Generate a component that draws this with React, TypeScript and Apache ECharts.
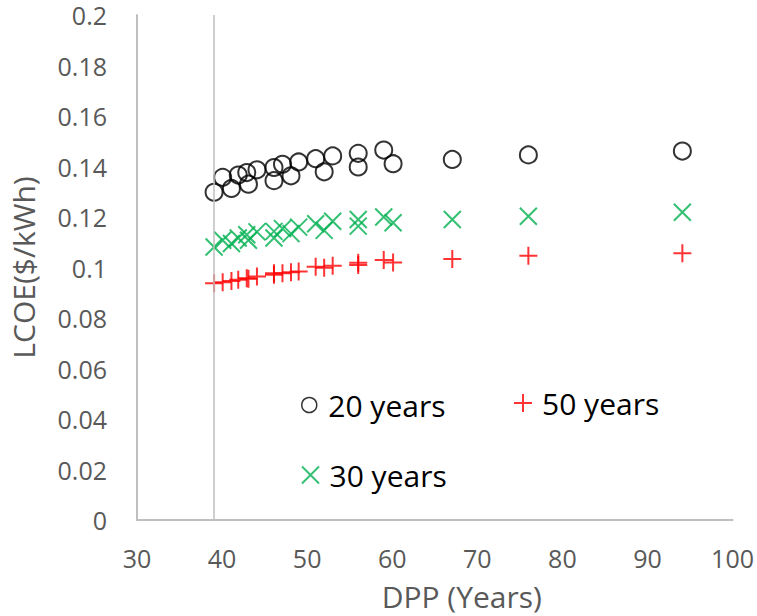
import React, { useEffect, useRef } from "react";
import * as echarts from "echarts";

const dpp = [39.06, 40.07, 41.1, 41.9, 42.9, 43.1, 44.1, 46.1, 46.1, 47.1, 48.1, 49.0, 51.0, 52.0, 53.0, 56.0, 56.0, 59.0, 60.1, 67.06, 76.0, 94.1];
const lcoe20 = [0.1298, 0.1357, 0.1313, 0.1366, 0.1376, 0.133, 0.1387, 0.1396, 0.1344, 0.1409, 0.1363, 0.1418, 0.1431, 0.1379, 0.1442, 0.1452, 0.1398, 0.1465, 0.1411, 0.1428, 0.1446, 0.1461];
const lcoe30 = [0.1081, 0.1108, 0.1095, 0.1117, 0.113, 0.1108, 0.1141, 0.1143, 0.1117, 0.1154, 0.1134, 0.116, 0.1173, 0.1147, 0.1183, 0.119, 0.1164, 0.12, 0.1177, 0.119, 0.1203, 0.1219];
const lcoe50 = [0.0938, 0.0942, 0.0947, 0.0951, 0.0957, 0.0955, 0.0964, 0.0977, 0.0971, 0.0977, 0.0981, 0.0984, 0.1003, 0.0999, 0.1007, 0.1019, 0.101, 0.103, 0.102, 0.1034, 0.1047, 0.1056];
const refLineX = 39.06;
const seriesNames = ["20 years", "50 years", "30 years"];

const FONT = "Open Sans";
const PLUS = "path://M0,-1L0,1M-1,0L1,0";
const CROSS = "path://M-1,-1L1,1M-1,1L1,-1";

export default function App() {
  const ref = useRef<HTMLDivElement>(null);
  useEffect(() => {
    document.body.style.margin = "0";
    const chart = echarts.init(ref.current!, undefined, { renderer: "svg" });
    const pair = (ys: number[]) => dpp.map((x, i) => [x, ys[i]]);
    const legendCommon = {
      orient: "horizontal",
      itemWidth: 28,
      itemHeight: 15,
      textStyle: { fontFamily: FONT, fontSize: 30, color: "#000" },
      selectedMode: false,
    };
    chart.setOption({
      animation: false,
      backgroundColor: "#fff",
      grid: { left: 133, right: 24, top: 15, bottom: 95, containLabel: false },
      xAxis: {
        type: "value",
        min: 30,
        max: 100,
        interval: 10,
        name: "DPP (Years)",
        nameLocation: "middle",
        nameGap: 61,
        nameTextStyle: { fontFamily: FONT, fontSize: 30, lineHeight: 30, color: "#595959", padding: [0, 0, 0, 54] },
        axisLine: { show: true, lineStyle: { color: "#BFBFBF", width: 2 } },
        axisTick: { show: false },
        splitLine: { show: false },
        axisLabel: { fontFamily: FONT, fontSize: 25, lineHeight: 24, color: "#595959", margin: 26 },
      },
      yAxis: {
        type: "value",
        min: 0,
        max: 0.2,
        interval: 0.02,
        name: "LCOE($/kWh)",
        nameLocation: "middle",
        nameGap: 99,
        nameRotate: 90,
        nameTextStyle: { fontFamily: FONT, fontSize: 30, color: "#595959" },
        axisLine: { show: true, lineStyle: { color: "#BFBFBF", width: 2 } },
        axisTick: { show: false },
        splitLine: { show: false },
        axisLabel: { fontFamily: FONT, fontSize: 25, lineHeight: 22, color: "#595959", margin: 30 },
      },
      legend: [
        {
          ...legendCommon,
          data: [seriesNames[0]],
          left: 296,
          top: 385,
          itemStyle: { color: "rgba(0,0,0,0)", borderColor: "#000", borderWidth: 1.5 },
        },
        {
          ...legendCommon,
          data: [seriesNames[1]],
          left: 508,
          top: 383,
          itemHeight: 18,
          itemStyle: { color: "rgba(0,0,0,0)", borderColor: "#FF0000", borderWidth: 2 },
        },
        {
          ...legendCommon,
          data: [seriesNames[2]],
          left: 296,
          top: 455,
          itemHeight: 17,
          itemStyle: { color: "rgba(0,0,0,0)", borderColor: "#00B050", borderWidth: 2 },
        },
      ],
      series: [
        {
          name: seriesNames[0],
          type: "scatter",
          symbol: "circle",
          symbolSize: 17,
          data: pair(lcoe20),
          itemStyle: { color: "rgba(0,0,0,0)", borderColor: "#000", borderWidth: 2 },
          z: 3,
          markLine: {
            silent: true,
            symbol: ["none", "none"],
            label: { show: false },
            lineStyle: { color: "#BFBFBF", width: 1.5, type: "solid" },
            data: [{ xAxis: refLineX }],
          },
        },
        {
          name: seriesNames[1],
          type: "scatter",
          symbol: PLUS,
          symbolSize: 18,
          data: pair(lcoe50),
          itemStyle: { color: "rgba(0,0,0,0)", borderColor: "#FF0000", borderWidth: 2 },
          z: 2,
        },
        {
          name: seriesNames[2],
          type: "scatter",
          symbol: CROSS,
          symbolSize: 17,
          data: pair(lcoe30),
          itemStyle: { color: "rgba(0,0,0,0)", borderColor: "#00B050", borderWidth: 2 },
          z: 2,
        },
      ],
    });
    return () => chart.dispose();
  }, []);
  return <div ref={ref} style={{ width: 757, height: 616 }} />;
}
